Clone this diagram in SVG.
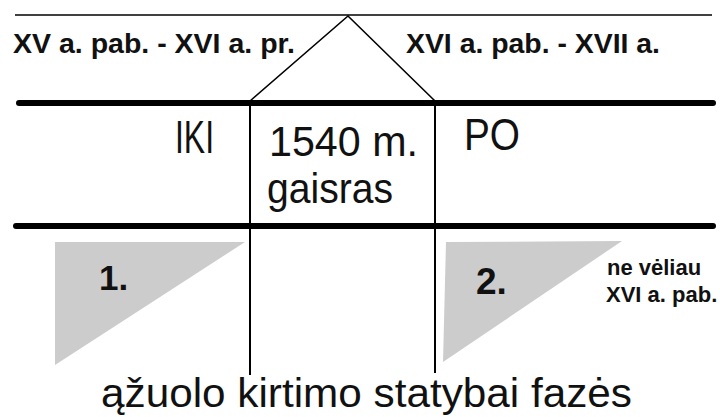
<svg xmlns="http://www.w3.org/2000/svg" width="720" height="417" viewBox="0 0 720 417">
<style>
.thin{stroke:#000;stroke-width:1.6;fill:none}
.thick{stroke:#000;stroke-width:6;stroke-linecap:round;fill:none}
.vert{stroke:#000;stroke-width:2;fill:none}
.tri{fill:#cccccc;stroke:none}
.hb{font-family:"Liberation Sans",Arial,sans-serif;font-weight:bold;fill:#111}
.lt{font-family:"Liberation Sans",Arial,sans-serif;fill:#111}
</style>
<rect width="720" height="417" fill="#fff"/>
<g id="connectors">
<line class="thin" x1="15" y1="15" x2="712" y2="15"/>
<polyline class="thin" points="250,101 348,16 435,101"/>
<line class="thick" x1="19" y1="103" x2="713" y2="103"/>
<line class="thick" x1="16" y1="226" x2="713" y2="226"/>
<line class="vert" x1="250" y1="101" x2="250" y2="375"/>
<line class="vert" x1="435" y1="101" x2="435" y2="373"/>
</g>
<g id="header-left"><text class="hb" x="13" y="53" font-size="28.4" textLength="282" lengthAdjust="spacingAndGlyphs">XV a. pab. - XVI a. pr.</text></g>
<g id="header-right"><text class="hb" x="406" y="53" font-size="28.4" textLength="254" lengthAdjust="spacingAndGlyphs">XVI a. pab. - XVII a.</text></g>
<g id="iki"><text class="lt" x="175" y="153" font-size="46" textLength="39" lengthAdjust="spacingAndGlyphs">IKI</text></g>
<g id="gaisras"><text class="lt" x="269" y="156" font-size="42" textLength="149" lengthAdjust="spacingAndGlyphs">1540 m.</text><text class="lt" x="267" y="203" font-size="42" textLength="126" lengthAdjust="spacingAndGlyphs">gaisras</text></g>
<g id="po"><text class="lt" x="464" y="150" font-size="44" textLength="56" lengthAdjust="spacingAndGlyphs">PO</text></g>
<g id="phase1"><polygon class="tri" points="55,242 245,242 55,365"/><text class="hb" x="99" y="290" font-size="35">1.</text></g>
<g id="phase2"><polygon class="tri" points="446,242 622,241 443,362"/><text class="hb" x="476" y="294" font-size="37">2.</text></g>
<g id="note"><text class="hb" x="607" y="275" font-size="22">ne vėliau</text><text class="hb" x="606" y="302" font-size="22">XVI a. pab.</text></g>
<g id="caption"><text class="lt" x="101" y="407" font-size="40" textLength="531" lengthAdjust="spacingAndGlyphs">ąžuolo kirtimo statybai fazės</text></g>
</svg>
